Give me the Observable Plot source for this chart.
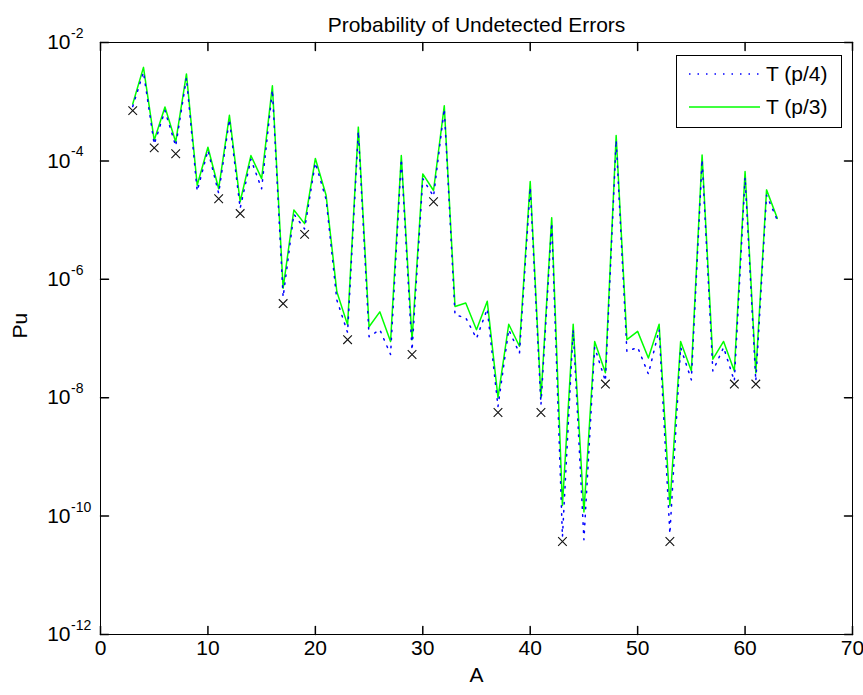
<!DOCTYPE html>
<html>
<head>
<meta charset="utf-8">
<script src="https://cdn.jsdelivr.net/npm/d3@7"></script>
<script src="https://cdn.jsdelivr.net/npm/@observablehq/plot@0.6"></script>
<style>
  html, body { margin: 0; padding: 0; background: #fff; }
  #chart svg { display: block; font-family: "Liberation Sans", Arial, sans-serif; }
</style>
</head>
<body>
<div id="chart"></div>
<script>
// A values (code length parameter)
const A = [3,4,5,6,7,8,9,10,11,12,13,14,15,16,17,18,19,20,21,22,23,24,25,26,27,28,29,30,31,32,33,
  34,35,36,37,38,39,40,41,42,43,44,45,46,47,48,49,50,51,52,53,54,55,56,57,58,59,60,61,62,63];

// T (p/3) — green solid
const puP3 = [9.12e-4,3.80e-3,2.24e-4,8.13e-4,2.09e-4,2.95e-3,3.89e-5,1.70e-4,3.39e-5,5.89e-4,2.04e-5,
  1.23e-4,5.01e-5,1.86e-3,7.08e-7,1.48e-5,8.71e-6,1.10e-4,2.63e-5,6.17e-7,1.70e-7,3.72e-4,1.58e-7,
  2.82e-7,8.91e-8,1.23e-4,9.55e-8,6.03e-5,3.16e-5,8.51e-4,3.47e-7,3.98e-7,1.41e-7,4.27e-7,1.00e-8,
  1.74e-7,7.41e-8,4.47e-5,1.00e-8,1.10e-5,1.51e-10,1.74e-7,1.17e-10,8.91e-8,2.63e-8,2.69e-4,9.55e-8,
  1.32e-7,4.68e-8,1.74e-7,1.51e-10,8.91e-8,2.82e-8,1.26e-4,4.47e-8,8.91e-8,2.82e-8,6.61e-5,2.63e-8,
  3.24e-5,1.07e-5];

// T (p/4) — blue dotted
const puP4 = [8.32e-4,3.16e-3,1.91e-4,7.08e-4,1.78e-4,2.51e-3,3.09e-5,1.51e-4,2.82e-5,5.01e-4,1.58e-5,
  1.07e-4,3.39e-5,1.58e-3,5.01e-7,1.26e-5,7.08e-6,9.33e-5,2.24e-5,4.47e-7,1.26e-7,3.16e-4,1.07e-7,
  1.41e-7,5.37e-8,1.07e-4,6.31e-8,5.01e-5,2.51e-5,7.59e-4,2.51e-7,2.24e-7,1.00e-7,3.16e-7,7.08e-9,
  1.41e-7,5.62e-8,3.55e-5,7.59e-9,8.91e-6,4.47e-11,1.41e-7,3.98e-11,7.08e-8,1.91e-8,2.24e-4,6.03e-8,
  7.08e-8,2.51e-8,1.41e-7,5.01e-11,7.08e-8,2.00e-8,1.05e-4,2.82e-8,7.08e-8,1.91e-8,5.25e-5,1.91e-8,
  2.63e-5,1.00e-5];

// black x markers at prime A
const primeA = [3,5,7,11,13,17,19,23,29,31,37,41,43,47,53,59,61];
const primePu = [7.08e-4,1.66e-4,1.32e-4,2.29e-5,1.29e-5,3.89e-7,5.75e-6,9.55e-8,5.37e-8,2.04e-5,
  5.62e-9,5.62e-9,3.72e-11,1.70e-8,3.72e-11,1.70e-8,1.70e-8];

// ticks
const xTicks = [0,10,20,30,40,50,60,70];
const xTickLabels = ["0","10","20","30","40","50","60","70"];
const yTicks = [1e-2,1e-4,1e-6,1e-8,1e-10,1e-12];
const yTickBase = ["10","10","10","10","10","10"];
const yTickExp = ["-2","-4","-6","-8","-10","-12"];

const seriesNames = ["T (p/4)", "T (p/3)"];
const titleText = "Probability of Undetected Errors";
const xLabel = "A";
const yLabel = "Pu";

const FS = 21;
const tickShape = { draw(ctx, l) { ctx.moveTo(0, 0); ctx.lineTo(0, -l); } };

function legend() {
  const g = d3.create("svg:g");
  g.append("rect").attr("x", 676.5).attr("y", 55.5).attr("width", 165).attr("height", 72)
    .attr("fill", "white").attr("stroke", "black").attr("stroke-width", 1);
  const rows = [
    {y: 74, stroke: "#0000ff", dash: "1.5 7", name: seriesNames[0]},
    {y: 107, stroke: "#00ff00", dash: null, name: seriesNames[1]}
  ];
  for (const r of rows) {
    const ln = g.append("line").attr("x1", 689).attr("x2", 760).attr("y1", r.y).attr("y2", r.y)
      .attr("stroke", r.stroke).attr("stroke-width", 1.5);
    if (r.dash) ln.attr("stroke-dasharray", r.dash);
    g.append("text").attr("x", 766).attr("y", r.y).attr("dy", "0.35em")
      .attr("text-anchor", "start").attr("font-size", 21).attr("fill", "black").text(r.name);
  }
  return g.node();
}

const chart = Plot.plot({
  width: 863,
  height: 695,
  marginTop: 42,
  marginBottom: 61,
  marginLeft: 100,
  marginRight: 11,
  style: { fontFamily: "'Liberation Sans', Arial, sans-serif", background: "white" },
  x: { domain: [0, 70], axis: null },
  y: { type: "log", domain: [1e-12, 1e-2], axis: null },
  marks: [
    Plot.line(A, { x: A, y: puP3, stroke: "#00ff00", strokeWidth: 1.5 }),
    Plot.line(A, { x: A, y: puP4, stroke: "#0000ff", strokeWidth: 1.5, strokeDasharray: "1.5 6.5" }),
    Plot.dot(primeA, { x: primeA, y: primePu, symbol: "times", r: 4, stroke: "#111", strokeWidth: 1.1 }),
    Plot.frame({ stroke: "black", strokeWidth: 1 }),
    // inward ticks
    Plot.vector(xTicks, { x: d => d, frameAnchor: "bottom", length: 8, rotate: 0, anchor: "start", shape: tickShape, stroke: "black" }),
    Plot.vector(xTicks, { x: d => d, frameAnchor: "top", length: 8, rotate: 180, anchor: "start", shape: tickShape, stroke: "black" }),
    Plot.vector(yTicks, { y: d => d, frameAnchor: "left", length: 8, rotate: 90, anchor: "start", shape: tickShape, stroke: "black" }),
    Plot.vector(yTicks, { y: d => d, frameAnchor: "right", length: 8, rotate: -90, anchor: "start", shape: tickShape, stroke: "black" }),
    // tick labels
    Plot.text(xTicks, { x: d => d, text: (d, i) => xTickLabels[i], frameAnchor: "bottom", dy: 20, fontSize: FS, fill: "black" }),
    Plot.text(yTicks, { y: d => d, text: (d, i) => yTickBase[i], frameAnchor: "left", textAnchor: "end", dx: -30, fontSize: FS, fill: "black" }),
    Plot.text(yTicks, { y: d => d, text: (d, i) => yTickExp[i], frameAnchor: "left", textAnchor: "start", dx: -29.5, dy: -9, fontSize: 14, fill: "black" }),
    // title & axis labels
    Plot.text([titleText], { text: d => d, frameAnchor: "top", dy: -25, fontSize: 21, fill: "black" }),
    Plot.text([xLabel], { text: d => d, frameAnchor: "bottom", dy: 47, fontSize: FS, fill: "black" }),
    Plot.text([yLabel], { text: d => d, frameAnchor: "left", dx: -80, rotate: -90, fontSize: FS, fill: "black" }),
    legend
  ]
});

document.getElementById("chart").appendChild(chart);
</script>
</body>
</html>
